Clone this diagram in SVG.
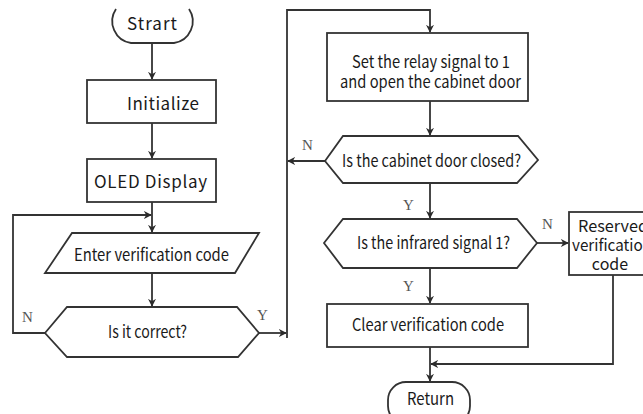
<svg xmlns="http://www.w3.org/2000/svg" width="643" height="414" viewBox="0 0 643 414">
<defs>
<marker id="arr" viewBox="0 0 10 10" refX="9" refY="5" markerWidth="8" markerHeight="8" markerUnits="userSpaceOnUse" orient="auto">
<path d="M0,0 L10,5 L0,10 L3,5 z" fill="#2b2b2b"/>
</marker>
<style>
.sh{fill:#fff;stroke:#333;stroke-width:1.8}
.t{font-family:"Noto Sans CJK SC","Noto Sans","Liberation Sans",sans-serif;font-size:17px;fill:#1a1a1a}
.ts{font-size:16px}
.tc{text-anchor:middle}
.lb{font-family:"Liberation Serif","DejaVu Serif",serif;font-size:15px;fill:#555}
.ln{fill:none;stroke:#333;stroke-width:1.8}
</style>
</defs>
<rect width="643" height="414" fill="#fff"/>
<g id="connectors">
<path class="ln" d="M152,44 L152,79" marker-end="url(#arr)"/>
<path class="ln" d="M152,123 L152,158" marker-end="url(#arr)"/>
<path class="ln" d="M152,202 L152,232" marker-end="url(#arr)"/>
<path class="ln" d="M45,333 L13,333 L13,215 L151,215" marker-end="url(#arr)"/>
<path class="ln" d="M152,273 L152,306" marker-end="url(#arr)"/>
<path class="ln" d="M259,333 L286,333" marker-end="url(#arr)"/>
<path class="ln" d="M287,338 L287,10 L430,10 L430,32" marker-end="url(#arr)"/>
<path class="ln" d="M430,101 L430,135" marker-end="url(#arr)"/>
<path class="ln" d="M325,161 L288,161" marker-end="url(#arr)"/>
<path class="ln" d="M430,183 L430,218" marker-end="url(#arr)"/>
<path class="ln" d="M537,243 L568,243" marker-end="url(#arr)"/>
<path class="ln" d="M430,268 L430,303" marker-end="url(#arr)"/>
<path class="ln" d="M613,275 L613,364 L431,364" marker-end="url(#arr)"/>
<path class="ln" d="M430,347 L430,381" marker-end="url(#arr)"/>
<text class="lb" x="22" y="322">N</text>
<text class="lb" x="257" y="320">Y</text>
<text class="lb" x="302" y="150">N</text>
<text class="lb" x="403" y="210">Y</text>
<text class="lb" x="542" y="229">N</text>
<text class="lb" x="403" y="291">Y</text>
</g>
<g id="start">
<path class="sh" d="M116,9 A22,22 0 0 0 131,43 L174,43 A22,22 0 0 0 189,9"/>
<text class="t" x="127" y="30" textLength="50">Strart</text>
</g>
<g id="initialize">
<rect class="sh" x="87" y="80" width="129" height="43"/>
<text class="t" x="127" y="110" textLength="72">Initialize</text>
</g>
<g id="oled">
<rect class="sh" x="87" y="159" width="129" height="43"/>
<text class="t" x="94" y="188" textLength="113">OLED Display</text>
</g>
<g id="enter">
<polygon class="sh" points="72,233 259,233 235,273 45,273"/>
<text class="t" x="74" y="261" textLength="155" lengthAdjust="spacingAndGlyphs">Enter verification code</text>
</g>
<g id="correct">
<polygon class="sh" points="45,333 67,307 237,307 259,333 238,357 67,357"/>
<text class="t" x="108" y="338" textLength="79" lengthAdjust="spacingAndGlyphs">Is it correct?</text>
</g>
<g id="relay">
<rect class="sh" x="327" y="33" width="201" height="68"/>
<text class="t" x="352" y="68" textLength="158" lengthAdjust="spacingAndGlyphs">Set the relay signal to 1</text>
<text class="t" x="340" y="88" textLength="181" lengthAdjust="spacingAndGlyphs">and open the cabinet door</text>
</g>
<g id="door">
<polygon class="sh" points="325,161 343,136 518,136 538,160 517,183 343,183"/>
<text class="t" x="342" y="167" textLength="179" lengthAdjust="spacingAndGlyphs">Is the cabinet door closed?</text>
</g>
<g id="infrared">
<polygon class="sh" points="324,243 343,219 517,219 537,243 517,268 343,268"/>
<text class="t" x="357" y="249" textLength="153" lengthAdjust="spacingAndGlyphs">Is the infrared signal 1?</text>
</g>
<g id="reserved">
<rect class="sh" x="569" y="212" width="90" height="63"/>
<text class="t ts" x="578" y="232" textLength="70" lengthAdjust="spacingAndGlyphs">Reserved</text>
<text class="t ts" x="572" y="251" textLength="80" lengthAdjust="spacingAndGlyphs">verification</text>
<text class="t ts tc" x="610" y="270">code</text>
</g>
<g id="clear">
<rect class="sh" x="327" y="304" width="201" height="43"/>
<text class="t" x="352" y="331" textLength="152" lengthAdjust="spacingAndGlyphs">Clear verification code</text>
</g>
<g id="return">
<rect class="sh" x="388" y="382" width="82" height="42" rx="18" ry="18"/>
<text class="t" x="407" y="405" textLength="47" lengthAdjust="spacingAndGlyphs">Return</text>
</g>
</svg>
